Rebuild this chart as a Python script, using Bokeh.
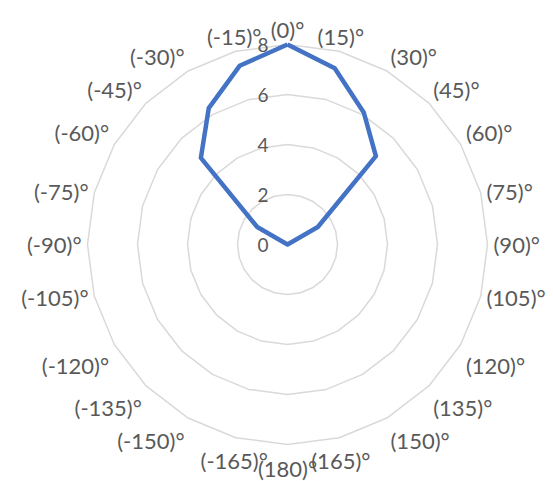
import math
from bokeh.plotting import figure
from bokeh.models import ColumnDataSource
from bokeh.core.properties import value
from bokeh.embed import file_html
from bokeh.resources import INLINE

# ---- data ----
categories = ["(0)°", "(15)°", "(30)°", "(45)°", "(60)°", "(75)°", "(90)°", "(105)°",
              "(120)°", "(135)°", "(150)°", "(165)°", "(180)°", "(-165)°", "(-150)°",
              "(-135)°", "(-120)°", "(-105)°", "(-90)°", "(-75)°", "(-60)°", "(-45)°",
              "(-30)°", "(-15)°"]
series_values = [8, 7.3, 6.1, 5.0, 1.4, 0, 0, 0, 0, 0, 0, 0, 0, 0, 0, 0, 0, 0, 0, 0,
                 1.4, 4.9, 6.3, 7.4]
ring_values = [2, 4, 6, 8]
ring_labels = ["0", "2", "4", "6", "8"]
ring_label_values = [0, 2, 4, 6, 8]

# ---- layout ----
W, H = 553, 481
PX = 25.0           # pixels per data unit
CX, CY = 287, 244   # centre in figure pixels
FONT = "Lato"
GREY = "#595959"

p = figure(width=W, height=H, output_backend="svg", toolbar_location=None,
           x_range=(-CX / PX, (W - CX) / PX), y_range=(-(H - CY) / PX, CY / PX),
           x_axis_location=None, y_axis_location=None, min_border=0)
p.outline_line_color = None
p.xgrid.grid_line_color = None
p.ygrid.grid_line_color = None
p.background_fill_color = "white"

n = len(categories)
ang = [2 * math.pi * i / n for i in range(n)]

# rings (24-gons)
for r in ring_values:
    xs = [r * math.sin(a) for a in ang]
    ys = [r * math.cos(a) for a in ang]
    xs.append(xs[0]); ys.append(ys[0])
    p.line(xs, ys, line_color="#D9D9D9", line_width=1.5)

# series
sx = [v * math.sin(a) for v, a in zip(series_values, ang)]
sy = [v * math.cos(a) for v, a in zip(series_values, ang)]
sx.append(sx[0]); sy.append(sy[0])
p.line(sx, sy, line_color="#4472C4", line_width=4.5, line_join="round")

# value axis labels
p.text(x=[-0.76] * len(ring_labels), y=ring_label_values, text=ring_labels,
       text_align="right", text_baseline="middle", text_font=value(FONT),
       text_font_size="19px", text_color=GREY)

# category labels
RL = 8.24
groups = {}
for i, lab in enumerate(categories):
    s, c = math.sin(ang[i]), math.cos(ang[i])
    al = "center" if abs(s) < 0.3 else ("left" if s > 0 else "right")
    bl = "middle" if abs(c) < 0.3 else ("bottom" if c > 0 else "top")
    off = 4
    if bl == "middle":
        off = 0
    g = groups.setdefault((al, bl), dict(x=[], y=[], t=[], yo=[]))
    g["x"].append(RL * s)
    g["y"].append(RL * c)
    g["t"].append(lab)
    g["yo"].append(off)

for (al, bl), g in groups.items():
    src = ColumnDataSource(g)
    p.text(x="x", y="y", text="t", y_offset="yo", source=src,
           text_align=al, text_baseline=bl, text_font=value(FONT),
           text_font_size="22px", text_color=GREY)

open("out.html", "w").write(file_html(p, INLINE))
